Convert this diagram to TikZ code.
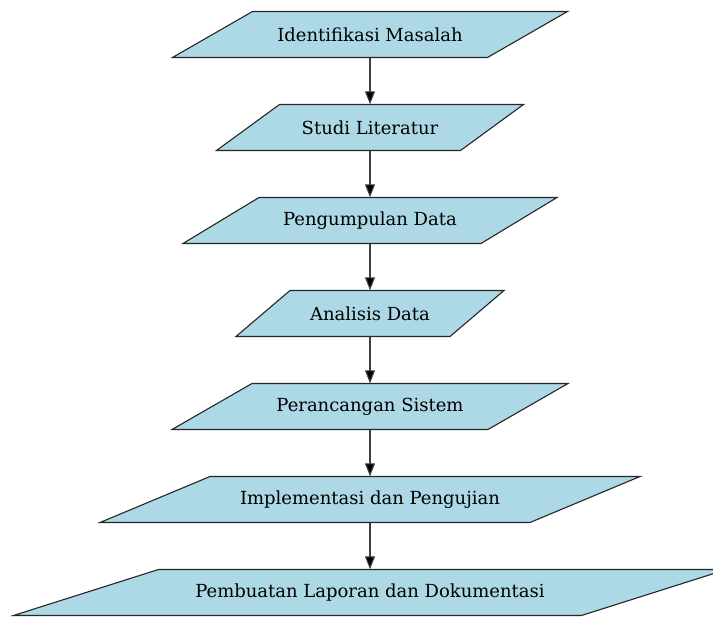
\documentclass[tikz,border=0pt]{standalone}
\usepackage{fontspec}
\newfontfamily\stepfont{DejaVu Serif}
\usetikzlibrary{arrows.meta}
\definecolor{boxfill}{HTML}{ADD8E6}
\definecolor{boxline}{HTML}{262626}

% #1 name, #2 centre y, #3 width of each horizontal edge, #4 horizontal skew, #5 label
\newcommand\flowstep[5]{%
  \path[stepshape] ({370-#3/2+#4/2},{#2-23}) -- ++(#3,0)
      -- ({370+#3/2-#4/2},{#2+23}) -- ++(-#3,0) -- cycle;
  \node[steplabel] (#1) at (370,#2) {#5};
}

\begin{document}
\begin{tikzpicture}[x=1pt,y=-1pt,
  stepshape/.style={fill=boxfill,draw=boxline,line width=1.1pt,line join=miter},
  steplabel/.style={minimum height=46pt,inner sep=0pt,text=black,
    font=\stepfont\fontsize{18}{21}\selectfont},
  flowarrow/.style={draw=black!75,line width=1.1pt,
    -{Triangle[length=13pt,width=10pt,fill=black]}}]
\useasboundingbox (0,0) rectangle (713,617);

\flowstep{s1}{34.5}{315}{80}{Identifikasi Masalah}
\flowstep{s2}{127.5}{244}{63}{Studi Literatur}
\flowstep{s3}{220.5}{298}{76}{Pengumpulan Data}
\flowstep{s4}{313.5}{214}{54}{Analisis Data}
\flowstep{s5}{406.5}{316}{80}{Perancangan Sistem}
\flowstep{s6}{499.5}{430}{110}{Implementasi dan Pengujian}
\flowstep{s7}{592.5}{568}{145}{Pembuatan Laporan dan Dokumentasi}

\draw[flowarrow] (s1.south) -- (s2.north);
\draw[flowarrow] (s2.south) -- (s3.north);
\draw[flowarrow] (s3.south) -- (s4.north);
\draw[flowarrow] (s4.south) -- (s5.north);
\draw[flowarrow] (s5.south) -- (s6.north);
\draw[flowarrow] (s6.south) -- (s7.north);
\end{tikzpicture}
\end{document}
